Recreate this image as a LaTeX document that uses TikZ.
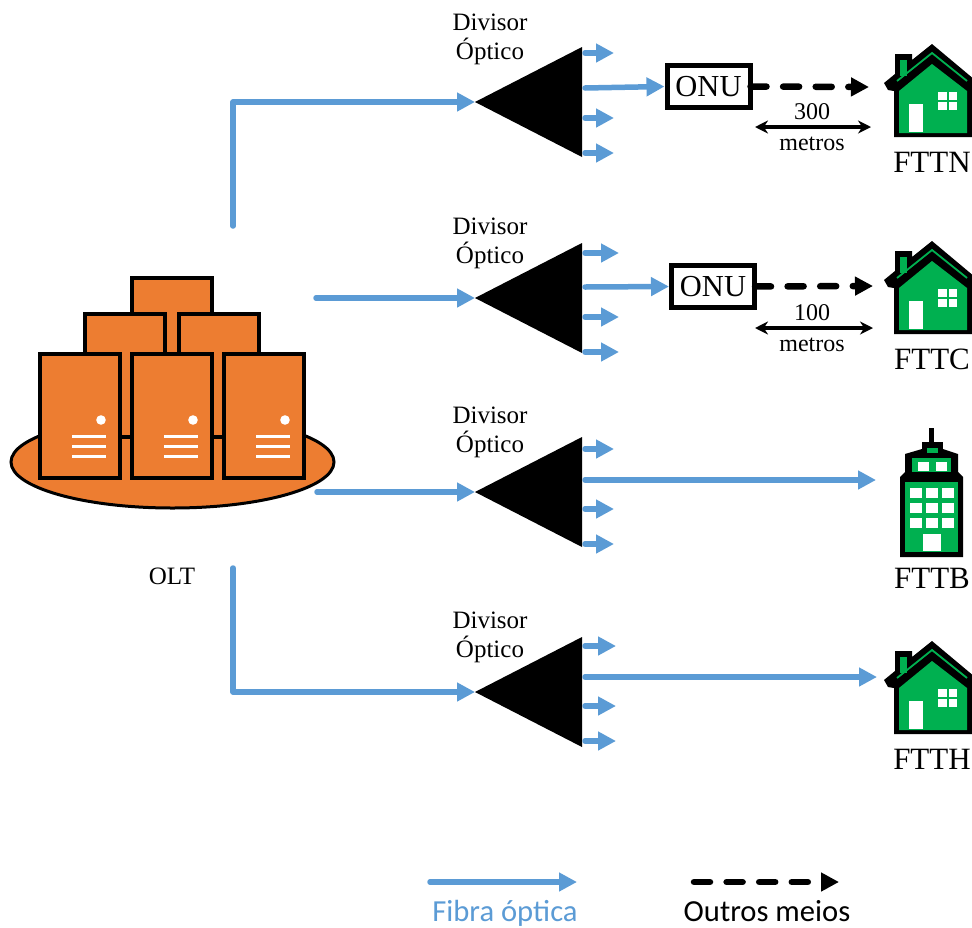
\documentclass[tikz,border=0pt]{standalone}
\usepackage{fontspec}
\setmainfont{Liberation Serif}
\newfontfamily\legendfont{Carlito}
\usetikzlibrary{arrows.meta}
\definecolor{fibre}{HTML}{5B9BD5}
\definecolor{srv}{HTML}{ED7D31}
\definecolor{bgreen}{HTML}{00B050}
\tikzset{
  fibra/.style={draw=fibre,line width=5.5pt,line cap=round,line join=round,-{Triangle[length=18pt,width=18pt]}},
  outro/.style={draw=black,line width=6.5pt,line cap=round,dash pattern=on 16pt off 16.6pt,-{Triangle[length=18pt,width=18pt]}},
  dist/.style={draw=black,line width=3.5pt,{Stealth[length=13pt,width=13pt]}-{Stealth[length=13pt,width=13pt]}},
  servbox/.style={draw=black,fill=srv,line width=3.5pt,miter limit=2},
  onubox/.style={draw=black,fill=white,line width=5pt,minimum width=83pt,minimum height=42pt,inner sep=0pt,font=\fontsize{30.5}{31}\selectfont},
  lab/.style={inner sep=0pt,font=\fontsize{25}{26}\selectfont},
  mid/.style={inner sep=0pt,font=\fontsize{24}{25}\selectfont},
  big/.style={inner sep=0pt,font=\fontsize{31}{32}\selectfont},
  leg/.style={inner sep=0pt,anchor=base,font=\legendfont\fontsize{30.6}{32}\selectfont},
}
% name, tip y, output ys (a,b,c,d), y of first label line
\newcommand{\splitter}[7]{%
  \coordinate (#1t) at (475,#2);
  \coordinate (#1a) at (585,#3);
  \coordinate (#1b) at (585,#4);
  \coordinate (#1c) at (585,#5);
  \coordinate (#1d) at (585,#6);
  \fill[black] (475,#2) -- (582,#2-55) -- (582,#2+55) -- cycle;
  \node[lab] (#1l1) at (490,#7) {Divisor};
  \node[lab] (#1l2) at (490,#7+29) {Óptico};
}
\newcommand{\server}[1]{%
  \begin{scope}[xshift=#1pt]
    \draw[servbox] (40,354) rectangle (120,478);
    \fill[white] (101,420) circle (4.8);
    \fill[white] (72,434.5) rectangle (106,437.5);
    \fill[white] (72,444.5) rectangle (106,447.5);
    \fill[white] (72,454.5) rectangle (106,457.5);
  \end{scope}
}
\newcommand{\house}[1]{%
  \begin{scope}[yshift=-#1pt]
    \fill[black,line join=round] (884,83) -- (895,74) -- (895,54) -- (912,54) -- (912,60) -- (932,44) -- (975,80) -- (975,137) -- (894,137) -- (894,91) -- (888,90) -- cycle;
    \fill[bgreen] (899,133) -- (967,133) -- (967,91) -- (932,64) -- (899,91) -- cycle;
    \fill[bgreen] (900,60) rectangle (906.5,76);
    \draw[bgreen,line width=1.8pt] (897,81) -- (932,53) -- (967,81);
    \fill[white] (909,104) rectangle (923,132);
    \fill[white] (938,92) rectangle (946.5,100);
    \fill[white] (948.5,92) rectangle (957,100);
    \fill[white] (938,102) rectangle (946.5,110);
    \fill[white] (948.5,102) rectangle (957,110);
  \end{scope}
}
\begin{document}
\begin{tikzpicture}[x=1pt,y=-1pt]
\useasboundingbox (0,0) rectangle (972,927);
% OLT
\draw[servbox,line width=3pt] (172.5,462) ellipse (161.5 and 46);
\draw[servbox] (132,278) rectangle (212,400);
\draw[servbox] (85,314) rectangle (165,437);
\draw[servbox] (179,314) rectangle (259,437);
\fill[srv] (134,400) rectangle (163,352);
\fill[srv] (181,400) rectangle (210,352);
\server{0}
\server{92}
\server{184}
\node[lab] (olt) at (172,576) {OLT};
\coordinate (f1) at (233,226);
\coordinate (f2) at (316,298);
\coordinate (f3) at (317,492);
\coordinate (f4) at (233,568);
% splitters
\splitter{sa}{102}{53}{88}{118}{153}{22}
\splitter{sb}{298}{253}{287}{317}{352}{226}
\splitter{sc}{492}{449}{480}{509}{544}{415}
\splitter{sd}{692}{646}{677}{706}{741}{620}
\draw[fibra] (f1) -- (233,102) -- (sat);
\draw[fibra] (f2) -- (sbt);
\draw[fibra] (f3) -- (sct);
\draw[fibra] (f4) -- (233,692) -- (sdt);
% ONUs
\node[onubox] (onua) at (708.5,86.5) {ONU};
\node[onubox] (onub) at (713,286.5) {ONU};
% buildings
\house{0}
\house{197}
\house{597}
\fill[black] (929,428) rectangle (934,444);
\fill[black] (922,442) rectangle (943,452);
\fill[black] (905,454) -- (922,449) -- (943,449) -- (958,454) -- (958,478) -- (905,478) -- cycle;
\fill[black] (900,477) -- (905,472) -- (958,472) -- (963,477) -- (963,557) -- (900,557) -- cycle;
\fill[bgreen] (927,448) rectangle (938,453);
\fill[bgreen] (912,458) rectangle (951,472);
\fill[white] (918,462) rectangle (929,471);
\fill[white] (936,462) rectangle (947,471);
\fill[bgreen] (905,482) rectangle (958,552);
\foreach \gy in {488,503,518}{
  \foreach \gx in {910,926,942}{
    \fill[white] (\gx,\gy) rectangle (\gx+11.5,\gy+10);
  }
}
\fill[white] (923,534) rectangle (941,551);
% destinations
\coordinate (ea) at (869,87);
\coordinate (eb) at (873,286);
\coordinate (ec) at (876,480);
\coordinate (ed) at (877,677);
% outputs
\draw[fibra] (saa) -- (614,53);
\draw[fibra] (sab) -- (onua.west);
\draw[fibra] (sac) -- (614,118);
\draw[fibra] (sad) -- (614,153);
\draw[fibra] (sba) -- (619,253);
\draw[fibra] (sbb) -- (onub.west);
\draw[fibra] (sbc) -- (619,317);
\draw[fibra] (sbd) -- (619,352);
\draw[fibra] (sca) -- (614,449);
\draw[fibra] (scb) -- (ec);
\draw[fibra] (scc) -- (614,509);
\draw[fibra] (scd) -- (614,544);
\draw[fibra] (sda) -- (616,646);
\draw[fibra] (sdb) -- (ed);
\draw[fibra] (sdc) -- (616,706);
\draw[fibra] (sdd) -- (616,741);
% other media
\draw[outro] (onua.east) ++(-2,0) -- (ea);
\draw[outro] (onub.east) ++(-2,0) -- (eb);
\coordinate (da1) at (755,127);
\coordinate (da2) at (871,127);
\coordinate (db1) at (755,328);
\coordinate (db2) at (873,328);
\draw[dist] (da1) -- (da2);
\draw[dist] (db1) -- (db2);
\node[mid] (t300) at (812,112) {300};
\node[mid] (m300) at (812,144) {metros};
\node[mid] (t100) at (812,313) {100};
\node[mid] (m100) at (812,345) {metros};
% names
\node[big] (fttn) at (932,162) {FTTN};
\node[big] (fttc) at (932,359) {FTTC};
\node[big] (fttb) at (932,578) {FTTB};
\node[big] (ftth) at (932,759) {FTTH};
% legend
\coordinate (la1) at (430,882);
\coordinate (la2) at (577,882);
\coordinate (lb1) at (694,882);
\coordinate (lb2) at (839,882);
\draw[fibra] (la1) -- (la2);
\draw[outro] (lb1) -- (lb2);
\node[leg,text=fibre] (lfibra) at (505,921) {Fibra óptica};
\node[leg] (loutros) at (767,921) {Outros meios};
\end{tikzpicture}
\end{document}
